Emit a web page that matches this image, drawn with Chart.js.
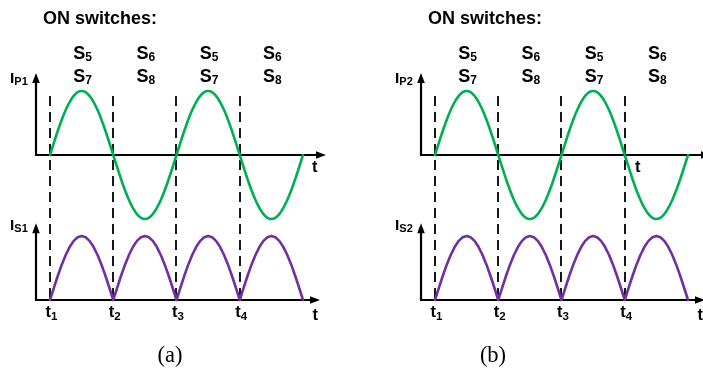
<!DOCTYPE html>
<html><head><meta charset="utf-8">
<script src="https://cdn.jsdelivr.net/npm/chart.js@4/dist/chart.umd.min.js"></script>
<style>
html,body{margin:0;padding:0;width:703px;height:369px;overflow:hidden;background:#fff;}
#wrap{position:relative;width:703px;height:369px;overflow:hidden;}
#wrap canvas{position:absolute;top:0;}
.lbl{position:absolute;font-family:"Liberation Sans",Arial,sans-serif;font-weight:bold;color:#000;line-height:1;white-space:nowrap;}
.lbl span{position:relative;}
.cap{position:absolute;font-family:"Liberation Serif","Times New Roman",serif;font-size:22px;line-height:1;color:#000;white-space:nowrap;}
</style></head>
<body><div id="wrap"></div>
<script>
// ---- data (electrical phase in degrees, normalised currents) ----
const phaseDeg = [0, 11.25, 22.5, 33.75, 45, 56.25, 67.5, 78.75, 90, 101.25, 112.5, 123.75, 135, 146.25, 157.5, 168.75,
  180, 191.25, 202.5, 213.75, 225, 236.25, 247.5, 258.75, 270, 281.25, 292.5, 303.75, 315, 326.25, 337.5, 348.75,
  360, 371.25, 382.5, 393.75, 405, 416.25, 427.5, 438.75, 450, 461.25, 472.5, 483.75, 495, 506.25, 517.5, 528.75,
  540, 551.25, 562.5, 573.75, 585, 596.25, 607.5, 618.75, 630, 641.25, 652.5, 663.75, 675, 686.25, 697.5, 708.75, 720];
const iPrimary = [0, .195, .383, .556, .707, .831, .924, .981, 1, .981, .924, .831, .707, .556, .383, .195,
  0, -.195, -.383, -.556, -.707, -.831, -.924, -.981, -1, -.981, -.924, -.831, -.707, -.556, -.383, -.195,
  0, .195, .383, .556, .707, .831, .924, .981, 1, .981, .924, .831, .707, .556, .383, .195,
  0, -.195, -.383, -.556, -.707, -.831, -.924, -.981, -1, -.981, -.924, -.831, -.707, -.556, -.383, -.195, 0];
const iSwitch = [0, .195, .383, .556, .707, .831, .924, .981, 1, .981, .924, .831, .707, .556, .383, .195,
  0, .195, .383, .556, .707, .831, .924, .981, 1, .981, .924, .831, .707, .556, .383, .195,
  0, .195, .383, .556, .707, .831, .924, .981, 1, .981, .924, .831, .707, .556, .383, .195,
  0, .195, .383, .556, .707, .831, .924, .981, 1, .981, .924, .831, .707, .556, .383, .195, 0];
const switchTimes = [0, 180, 360, 540];
const switchTimeSubs = ['1', '2', '3', '4'];
const intervalEdges = [0, 180, 360, 540, 720];
const onSwitchUpper = ['5', '6', '5', '6'];
const onSwitchLower = ['7', '8', '7', '8'];
const panelNames = ['a', 'b'];
const primaryNames = ['P1', 'P2'];
const secondaryNames = ['S1', 'S2'];

// ---- styling / layout ----
const GREEN = '#00b050', PURPLE = '#7030a0';
const panelLeft = [0, 385];
const topTLabelX = [312, 250];
const captionCenter = [170, 108];

function arrow(ctx, x0, y0, x1, y1) {
  const len = 10, hw = 3.8;
  const dx = x1 - x0, dy = y1 - y0, d = Math.hypot(dx, dy), ux = dx / d, uy = dy / d;
  const bx = x1 - ux * len, by = y1 - uy * len;
  ctx.beginPath(); ctx.moveTo(x0, y0); ctx.lineTo(bx + ux, by + uy); ctx.stroke();
  ctx.beginPath(); ctx.moveTo(x1, y1);
  ctx.lineTo(bx - uy * hw, by + ux * hw); ctx.lineTo(bx + uy * hw, by - ux * hw); ctx.closePath(); ctx.fill();
}

const diagramPlugin = {
  id: 'diagram',
  beforeDatasetsDraw(chart, args, o) {
    const { ctx } = chart; const x = chart.scales.x, yT = chart.scales.yTop, yB = chart.scales.yBot;
    ctx.save();
    ctx.strokeStyle = '#000'; ctx.lineWidth = 1.8; ctx.setLineDash([10, 6]);
    switchTimes.forEach(t => {
      const px = Math.round(x.getPixelForValue(t));
      ctx.beginPath(); ctx.moveTo(px, yT.getPixelForValue(o.dashTop)); ctx.lineTo(px, yB.getPixelForValue(0)); ctx.stroke();
    });
    ctx.setLineDash([]);
    ctx.strokeStyle = '#000'; ctx.fillStyle = '#000'; ctx.lineWidth = 2.2; ctx.lineCap = 'butt';
    const ox = x.getPixelForValue(o.originX);
    // top axes
    const ty0 = yT.getPixelForValue(0);
    arrow(ctx, ox, ty0 + 1, ox, yT.getPixelForValue(o.topTipY));
    arrow(ctx, ox - 1, ty0, x.getPixelForValue(o.topTipX), ty0);
    // bottom axes
    const by0 = yB.getPixelForValue(0);
    arrow(ctx, ox, by0 + 1, ox, yB.getPixelForValue(o.botTipY));
    arrow(ctx, ox - 1, by0, x.getPixelForValue(o.botTipX), by0);
    ctx.restore();
  }
};

const wrap = document.getElementById('wrap');
function addLabel(html, left, top, cls, size, center) {
  const d = document.createElement('div');
  d.className = cls; d.innerHTML = html;
  d.style.left = left + 'px'; d.style.top = top + 'px';
  if (size) d.style.fontSize = size + 'px';
  if (center) d.style.transform = 'translateX(-50%)';
  wrap.appendChild(d);
}
const sub = (txt, size, dy) => `<span style="font-size:${size}px;top:${dy}px">${txt}</span>`;

panelNames.forEach((name, p) => {
  const cv = document.createElement('canvas');
  cv.width = 385; cv.height = 369; cv.style.left = panelLeft[p] + 'px';
  wrap.appendChild(cv);
  const chart = new Chart(cv, {
    type: 'line',
    data: {
      datasets: [
        { label: 'I' + primaryNames[p], data: phaseDeg.map((v, i) => ({ x: v, y: iPrimary[i] })), yAxisID: 'yTop',
          borderColor: GREEN, borderWidth: 2.6, pointRadius: 0, tension: 0.25, fill: false, borderJoinStyle: 'round', borderCapStyle: 'round' },
        { label: 'I' + secondaryNames[p], data: phaseDeg.map((v, i) => ({ x: v, y: iSwitch[i] })), yAxisID: 'yBot',
          borderColor: PURPLE, borderWidth: 2.6, pointRadius: 0, tension: 0, fill: false, borderJoinStyle: 'round', borderCapStyle: 'round' }
      ]
    },
    options: {
      responsive: false, animation: false, devicePixelRatio: 1,
      layout: { padding: 0 },
      events: [],
      plugins: {
        legend: { display: false }, tooltip: { enabled: false }, title: { display: false },
        diagram: { originX: -39.8, topTipX: 785.4, botTipX: 768.4, topTipY: 1.28, botTipY: 1.2, dashTop: 0.92 }
      },
      scales: {
        x: { type: 'linear', display: false, min: -142.29, max: 953.36 },
        yTop: { type: 'linear', axis: 'y', display: false, min: -3.34375, max: 2.421875 },
        yBot: { type: 'linear', axis: 'y', display: false, min: -1.078125, max: 4.6875 }
      }
    },
    plugins: [diagramPlugin]
  });

  const L = panelLeft[p], xs = chart.scales.x;
  addLabel('ON switches:', L + 43, 9, 'lbl', 18);
  for (let i = 0; i < onSwitchUpper.length; i++) {
    const cx = L + xs.getPixelForValue((intervalEdges[i] + intervalEdges[i + 1]) / 2);
    addLabel('S' + sub(onSwitchUpper[i], 12, 2), cx + 1, 44.2, 'lbl', 18, true);
    addLabel('S' + sub(onSwitchLower[i], 12, 2), cx + 1, 67.2, 'lbl', 18, true);
  }
  addLabel('I' + sub(primaryNames[p], 11, 2), L + 10, 70, 'lbl', 15.5);
  addLabel('I' + sub(secondaryNames[p], 11, 2), L + 10, 217, 'lbl', 15.5);
  switchTimes.forEach((t, i) => {
    addLabel('t' + sub(switchTimeSubs[i], 11.5, 3), L + xs.getPixelForValue(t) + 1.5, 303, 'lbl', 16.5, true);
  });
  addLabel('t', L + topTLabelX[p], 158, 'lbl', 16.5);
  addLabel('t', L + 312.5, 306, 'lbl', 16.5);
  addLabel('(' + name + ')', L + captionCenter[p], 344, 'cap', 22.5, true);
});
</script>
</body></html>
